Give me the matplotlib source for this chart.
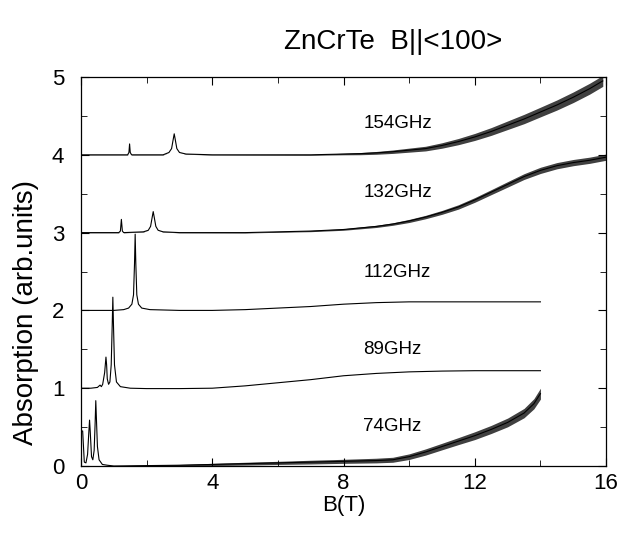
import numpy as np
import matplotlib
matplotlib.use("Agg")
import matplotlib.pyplot as plt

plt.rcParams['font.family'] = ['Liberation Sans', 'DejaVu Sans']

# ---- data ----
labels = ["74GHz", "89GHz", "112GHz", "132GHz", "154GHz"]

b_74 = [0.0, 0.05, 0.1, 0.15, 0.2, 0.24, 0.26, 0.28, 0.32, 0.36, 0.40, 0.43, 0.45, 0.47, 0.5, 0.55, 0.65, 0.8,
        1, 2, 3, 4, 5, 6, 7, 8, 9, 9.5, 10, 10.5, 11, 11.5, 12, 12.5, 13, 13.5, 13.8, 14.0]
y_74 = [0.45, 0.45, 0.05, 0.04, 0.15, 0.45, 0.59, 0.45, 0.12, 0.08, 0.2, 0.55, 0.84, 0.6, 0.25, 0.08, 0.02, 0.01,
        0.0, 0.005, 0.01, 0.02, 0.03, 0.04, 0.05, 0.06, 0.07, 0.08, 0.12, 0.18, 0.25, 0.32, 0.39, 0.47, 0.56, 0.68, 0.8, 0.93]
n_74 = [0, 0, 0, 0, 0, 0, 0, 0, 0, 0, 0, 0, 0, 0, 0, 0, 0, 0,
        0.004, 0.007, 0.01, 0.014, 0.018, 0.02, 0.024, 0.026, 0.03, 0.032, 0.036, 0.04, 0.042, 0.045, 0.05, 0.052, 0.056, 0.06, 0.065, 0.07]

b_89 = [0.0, 0.3, 0.5, 0.58, 0.62, 0.66, 0.72, 0.76, 0.78, 0.80, 0.84, 0.88, 0.92, 0.95, 0.97, 0.99, 1.02, 1.08,
        1.2, 1.5, 2, 3, 4, 5, 6, 7, 8, 9, 10, 11, 12, 13, 14]
y_89 = [1.0, 1.0, 1.01, 1.04, 1.02, 1.05, 1.2, 1.40, 1.3, 1.12, 1.05, 1.08, 1.3, 1.8, 2.17, 1.8, 1.3, 1.08,
        1.02, 1.0, 0.995, 0.995, 1.0, 1.03, 1.07, 1.11, 1.16, 1.19, 1.21, 1.22, 1.225, 1.225, 1.225]

b_112 = [0.0, 0.5, 1.0, 1.3, 1.45, 1.55, 1.6, 1.63, 1.65, 1.67, 1.7, 1.75, 1.85, 2.1,
         3, 4, 5, 6, 7, 8, 9, 10, 11, 12, 13, 14]
y_112 = [2.0, 2.0, 2.0, 2.01, 2.03, 2.08, 2.2, 2.6, 2.98, 2.6, 2.2, 2.08, 2.03, 2.01,
         2.0, 2.0, 2.01, 2.03, 2.05, 2.08, 2.1, 2.11, 2.11, 2.11, 2.11, 2.11]

b_132 = [0, 1.15, 1.2, 1.23, 1.26, 1.3, 1.9, 2.05, 2.12, 2.17, 2.2, 2.23, 2.28, 2.35, 2.5,
         3, 4, 5, 6, 7, 8, 8.5, 9, 9.5, 10, 10.5, 11, 11.5, 12, 12.5, 13, 13.5, 14, 14.5, 15, 15.5, 16]
y_132 = [3.0, 3.0, 3.02, 3.17, 3.02, 3.0, 3.01, 3.03, 3.08, 3.2, 3.27, 3.2, 3.08, 3.03, 3.01,
         3.0, 3.0, 3.0, 3.01, 3.02, 3.04, 3.06, 3.08, 3.11, 3.15, 3.2, 3.26, 3.33, 3.42, 3.52, 3.62, 3.72, 3.8, 3.86, 3.9, 3.93, 3.97]
n_132 = [0.003, 0.003, 0, 0, 0, 0.003, 0.003, 0, 0, 0, 0, 0, 0, 0, 0.003,
         0.003, 0.004, 0.005, 0.006, 0.008, 0.01, 0.012, 0.014, 0.016, 0.02, 0.022, 0.025, 0.028, 0.03, 0.032, 0.035, 0.037, 0.04, 0.04, 0.04, 0.04, 0.04]

b_154 = [0, 1.42, 1.46, 1.48, 1.5, 1.54, 2.5, 2.68, 2.76, 2.81, 2.84, 2.87, 2.92, 3.0, 3.2,
         4, 5, 6, 7, 8, 8.5, 9, 9.5, 10, 10.5, 11, 11.5, 12, 12.5, 13, 13.5, 14, 14.5, 15, 15.5, 15.9]
y_154 = [4.0, 4.0, 4.03, 4.14, 4.03, 4.0, 4.0, 4.03, 4.08, 4.2, 4.27, 4.2, 4.08, 4.03, 4.01,
         4.0, 4.0, 4.0, 4.0, 4.01, 4.015, 4.025, 4.04, 4.06, 4.08, 4.12, 4.17, 4.23, 4.3, 4.38, 4.46, 4.55, 4.64, 4.74, 4.85, 4.95]
n_154 = [0.003, 0.003, 0, 0, 0, 0.003, 0.003, 0, 0, 0, 0, 0, 0, 0, 0.003,
         0.003, 0.004, 0.005, 0.006, 0.01, 0.014, 0.018, 0.022, 0.026, 0.03, 0.035, 0.04, 0.045, 0.05, 0.055, 0.06, 0.062, 0.065, 0.068, 0.07, 0.07]

label_pos_b = [8.6, 8.6, 8.6, 8.6, 8.6]
label_pos_y = [0.51, 1.50, 2.49, 3.51, 4.40]

x_ticks = [0, 4, 8, 12, 16]
y_ticks = [0, 1, 2, 3, 4, 5]

# ---- figure ----
fig = plt.figure(figsize=(6.3, 5.33), dpi=100)
ax = fig.add_axes([0.1286, 0.1257, 0.8334, 0.7298])

lw = 0.8
ax.plot(b_74, y_74, color='black', lw=lw)
ax.fill_between(b_74, np.array(y_74) - np.array(n_74), np.array(y_74) + np.array(n_74), color='black', lw=0, alpha=0.75)
ax.plot(b_89, y_89, color='black', lw=lw)
ax.plot(b_112, y_112, color='black', lw=lw)
ax.plot(b_132, y_132, color='black', lw=lw)
ax.fill_between(b_132, np.array(y_132) - np.array(n_132), np.array(y_132) + np.array(n_132), color='black', lw=0, alpha=0.75)
ax.plot(b_154, y_154, color='black', lw=lw)
ax.fill_between(b_154, np.array(y_154) - np.array(n_154), np.array(y_154) + np.array(n_154), color='black', lw=0, alpha=0.75)

for lab, xb, yv in zip(labels, label_pos_b, label_pos_y):
    ax.text(xb, yv, lab, fontsize=13.5, va='center', ha='left')

ax.set_xlim(0, 16)
ax.set_ylim(0, 5)
ax.set_xticks(x_ticks)
ax.set_yticks(y_ticks)
ax.set_xticks(np.arange(0, 17, 2), minor=True)
ax.set_yticks(np.arange(0, 5.01, 0.5), minor=True)
ax.tick_params(which='both', direction='in', top=True, right=True, labelsize=16)
ax.tick_params(axis='x', which='major', pad=5)
ax.tick_params(axis='y', which='major', pad=12)
ax.tick_params(which='major', length=6)
ax.tick_params(which='minor', length=4)
for s in ax.spines.values():
    s.set_linewidth(0.9)

fig.text(0.545, 0.0525, 'B(T)', fontsize=16, ha='center', va='center')
fig.text(0.042, 0.413, 'Absorption (arb.units)', rotation=90, fontsize=20, ha='center', va='center')
fig.text(0.624, 0.921, 'ZnCrTe  B||<100>', fontsize=20, ha='center', va='center')

fig.savefig('out.png', dpi=100)
